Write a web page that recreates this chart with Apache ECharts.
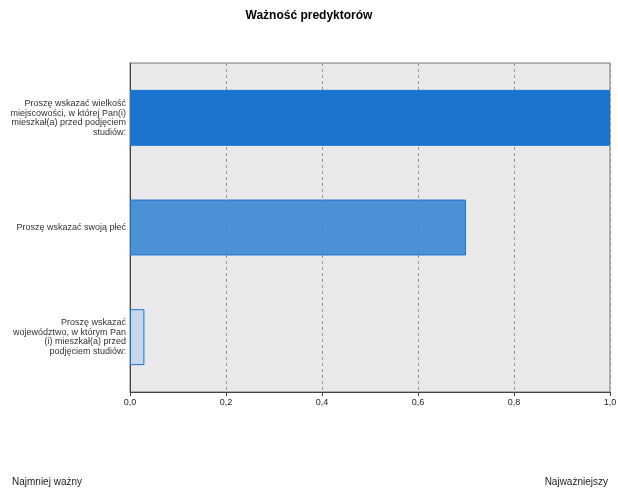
<!DOCTYPE html>
<html>
<head>
<meta charset="utf-8">
<script src="https://cdn.jsdelivr.net/npm/echarts@6/dist/echarts.min.js"></script>
<style>
  html, body { margin: 0; padding: 0; background: #fff; }
  #main { width: 618px; height: 488px; }
</style>
</head>
<body>
<div id="main"></div>
<script>
// predyktory, od najważniejszego
const predictors = [
  'Proszę wskazać wielkość\nmiejscowości, w której Pan(i)\nmieszkał(a) przed podjęciem\nstudiów:',
  'Proszę wskazać swoją płeć',
  'Proszę wskazać\nwojewództwo, w którym Pan\n(i) mieszkał(a) przed\npodjęciem studiów:'
];
const importance = [1.0, 0.70, 0.03];

// kolor słupka zależy od ważności
const barColor = (v) => {
  if (v > 0.9) return 'rgba(16,110,204,0.95)';
  if (v > 0.3) return 'rgba(64,138,212,0.93)';
  return 'rgba(196,214,234,0.9)';
};

const myChart = echarts.init(document.getElementById('main'));
myChart.setOption({
  animation: false,
  title: [
    {
      text: 'Ważność predyktorów',
      left: 'center',
      top: 10,
      padding: 0,
      textStyle: { fontFamily: 'Liberation Sans', fontSize: 12, fontWeight: 'bold', color: '#000' }
    },
    {
      text: 'Najmniej ważny',
      left: 12,
      top: 477,
      padding: 0,
      textStyle: { fontFamily: 'Liberation Sans', fontSize: 10, fontWeight: 'normal', color: '#222' }
    },
    {
      text: 'Najważniejszy',
      right: 10,
      top: 477,
      padding: 0,
      textStyle: { fontFamily: 'Liberation Sans', fontSize: 10, fontWeight: 'normal', color: '#222' }
    }
  ],
  grid: {
    left: 130,
    right: 8,
    top: 63,
    bottom: 96,
    containLabel: false,
    outerBoundsMode: 'none',
    show: true,
    backgroundColor: '#e9e9e9',
    borderColor: '#777',
    borderWidth: 1
  },
  xAxis: {
    type: 'value',
    min: 0,
    max: 1,
    interval: 0.2,
    axisLine: { show: true, lineStyle: { color: '#444', width: 1 } },
    axisTick: { show: true, length: 4, lineStyle: { color: '#444' } },
    axisLabel: {
      fontFamily: 'Liberation Sans',
      fontSize: 9,
      color: '#222',
      margin: 6,
      formatter: (v) => v.toFixed(1).replace('.', ',')
    },
    splitLine: { show: true, lineStyle: { color: '#9a9a9a', type: [3, 3], width: 1 } }
  },
  yAxis: {
    type: 'category',
    inverse: true,
    data: predictors,
    axisLine: { show: true, lineStyle: { color: '#444', width: 1 } },
    axisTick: { show: false },
    axisLabel: {
      fontFamily: 'Liberation Sans',
      fontSize: 9,
      color: '#333',
      lineHeight: 9.5,
      margin: 4,
      align: 'right'
    }
  },
  series: [
    {
      type: 'bar',
      data: importance,
      barWidth: '51%',
      itemStyle: {
        color: (p) => barColor(p.value),
        borderColor: '#1a74d0',
        borderWidth: 1
      }
    }
  ]
});
</script>
</body>
</html>
